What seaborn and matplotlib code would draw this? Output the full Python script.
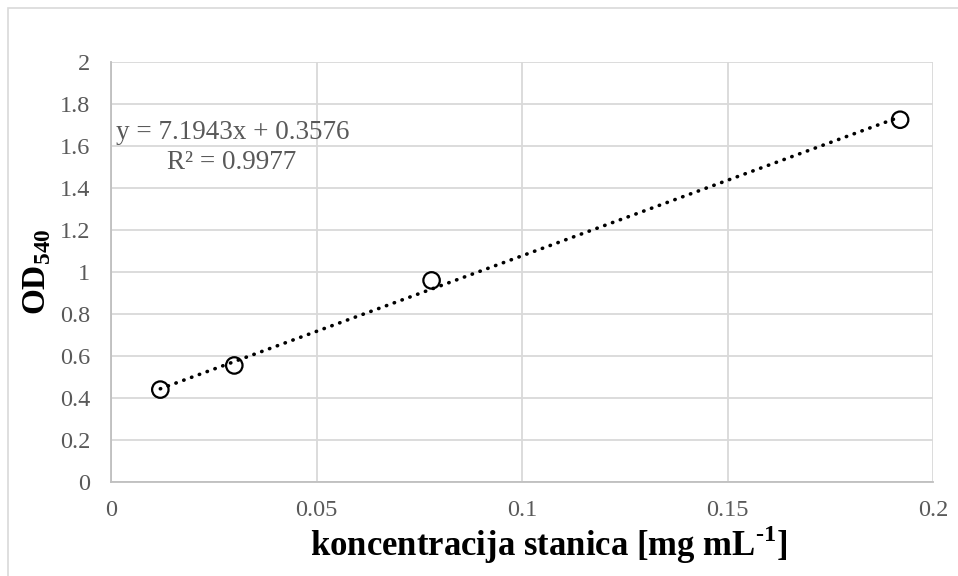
import numpy as np
import pandas as pd
import matplotlib
matplotlib.use('Agg')
import matplotlib.pyplot as plt
import seaborn as sns
from matplotlib.patches import Rectangle

# measured calibration points
concentration = [0.012, 0.030, 0.078, 0.192]
od540 = [0.44, 0.555, 0.96, 1.725]

# linear trendline (as reported on the chart)
slope = 7.1943
intercept = 0.3576
r_squared = 0.9977

x_ticks = [0, 0.05, 0.1, 0.15, 0.2]
x_tick_labels = ['0', '0.05', '0.1', '0.15', '0.2']
y_ticks = [0, 0.2, 0.4, 0.6, 0.8, 1.0, 1.2, 1.4, 1.6, 1.8, 2.0]
y_tick_labels = ['0', '0.2', '0.4', '0.6', '0.8', '1', '1.2', '1.4', '1.6', '1.8', '2']

sns.set_theme(style='white')
plt.rcParams['font.family'] = ['Liberation Serif', 'DejaVu Serif']
plt.rcParams['mathtext.fontset'] = 'custom'
plt.rcParams['mathtext.rm'] = 'Liberation Serif'
plt.rcParams['mathtext.bf'] = 'Liberation Serif:bold'

df = pd.DataFrame({'x': concentration, 'y': od540})

fig = plt.figure(figsize=(9.58, 5.76), dpi=100)
ax = fig.add_axes([111 / 958, 1 - 482 / 576, (933 - 111) / 958, (482 - 62) / 576])

# outer chart border
fig.patches.append(Rectangle((8 / 958, -0.5), 1.5, 1.5 - 8 / 576, transform=fig.transFigure,
                             fill=False, edgecolor='#d9d9d9', linewidth=1.2))

grid_col = '#d9d9d9'
ax.set_xlim(0, 0.2)
ax.set_ylim(0, 2)
ax.set_xticks(x_ticks)
ax.set_xticklabels(x_tick_labels)
ax.set_yticks(y_ticks)
ax.set_yticklabels(y_tick_labels)
ax.grid(True, color=grid_col, linewidth=1.3)
ax.set_axisbelow(True)
for side in ['top', 'right']:
    ax.spines[side].set_visible(False)
for side in ['left', 'bottom']:
    ax.spines[side].set_color('#bfbfbf')
    ax.spines[side].set_linewidth(1.3)
ax.tick_params(axis='both', length=0, labelsize=17.5, labelcolor='#595959')
ax.tick_params(axis='y', pad=15)
ax.tick_params(axis='x', pad=13)

# trendline over the data range
xs = np.array([min(concentration), max(concentration)])
ax.plot(xs, slope * xs + intercept, color='black', linestyle=(0, (0.1, 2.2)),
        linewidth=2.6, dash_capstyle='round', zorder=2)

sns.scatterplot(data=df, x='x', y='y', ax=ax, marker='o', s=140,
                facecolor='none', edgecolor='black', linewidth=1.6, zorder=3)

ax.text(0.0012, 1.665, f'y = {slope}x + {intercept}', fontsize=19.5,
        color='#595959', ha='left', va='center')
ax.text(0.0136, 1.52, f'R² = {r_squared}', fontsize=19.5,
        color='#595959', ha='left', va='center')

ax.set_xlabel('koncentracija stanica [mg mL$^{\\mathbf{\u20101}}$]', fontsize=25,
              fontweight='bold', color='black')
ax.xaxis.set_label_coords(0.532, -0.098)
ax.set_ylabel('OD$_{\\mathbf{540}}$', fontsize=24, fontweight='bold', color='black',
              labelpad=5)

fig.savefig('out.png', dpi=100)
